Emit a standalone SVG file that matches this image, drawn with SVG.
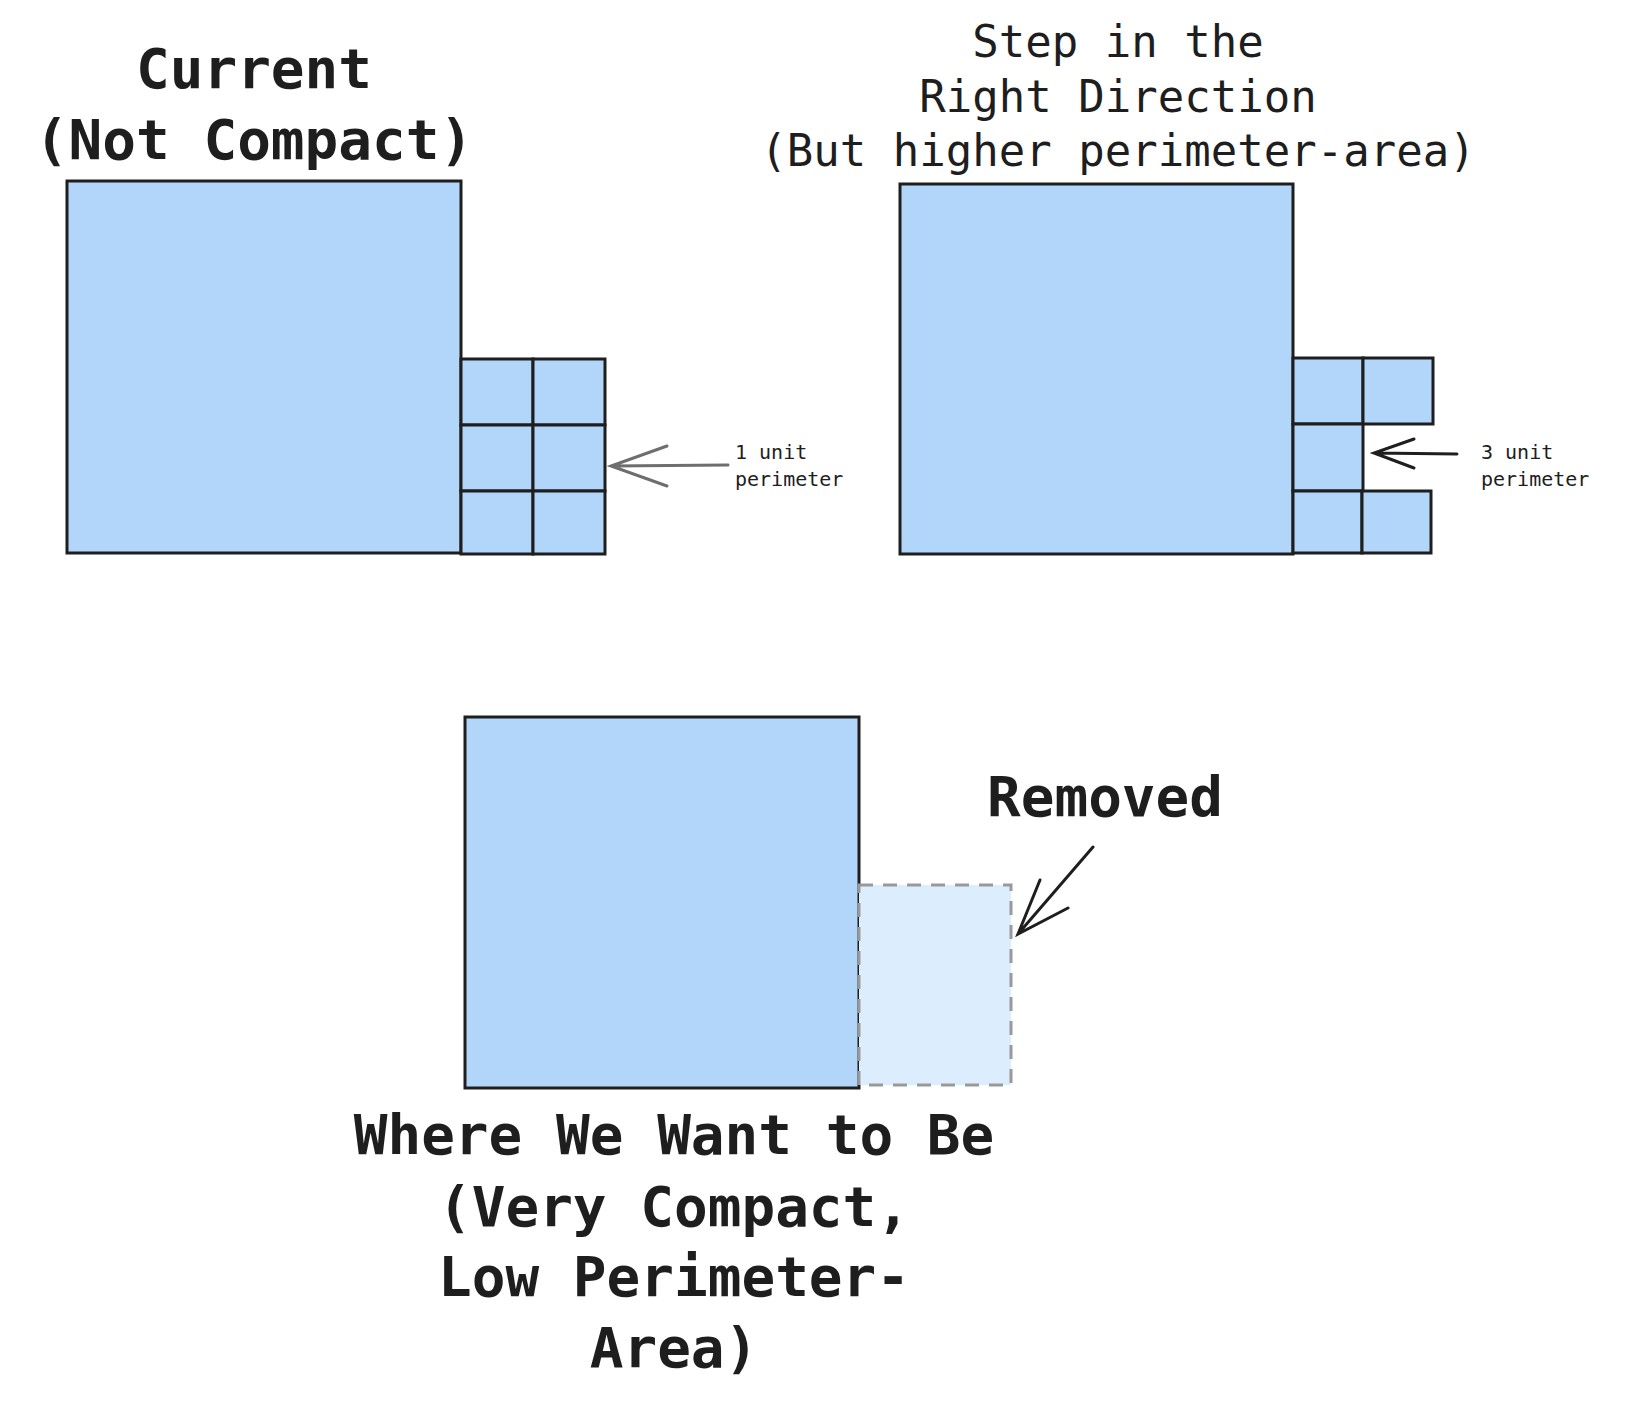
<svg xmlns="http://www.w3.org/2000/svg" width="1626" height="1428" viewBox="0 0 1626 1428">
<style>
.b{fill:#b1d6fa;stroke:#1e1e1e;stroke-width:3}
.t{font-family:"DejaVu Sans Mono","Liberation Mono",monospace;fill:#1e1e1e;text-anchor:middle}
.big{font-size:56px;font-weight:bold}
.mid{font-size:44px}
.sm{font-size:20px;text-anchor:start}
.ar{fill:none;stroke:#1e1e1e;stroke-width:3;stroke-linecap:round}
</style>
<rect width="1626" height="1428" fill="#fff"/>
<g id="current">
<text class="t big" x="254" y="88">Current</text>
<text class="t big" x="254" y="159">(Not Compact)</text>
<rect class="b" x="67" y="181" width="394" height="372"/>
<rect class="b" x="461" y="359" width="72" height="66"/>
<rect class="b" x="533" y="359" width="72" height="66"/>
<rect class="b" x="461" y="425" width="72" height="66"/>
<rect class="b" x="533" y="425" width="72" height="66"/>
<rect class="b" x="461" y="491" width="72" height="63"/>
<rect class="b" x="533" y="491" width="72" height="63"/>
<text class="t sm" x="735" y="459">1 unit</text>
<text class="t sm" x="735" y="486">perimeter</text>
</g>
<g id="step">
<text class="t mid" x="1118" y="57">Step in the</text>
<text class="t mid" x="1118" y="112">Right Direction</text>
<text class="t mid" x="1118" y="166">(But higher perimeter-area)</text>
<rect class="b" x="900" y="184" width="393" height="370"/>
<rect class="b" x="1293" y="358" width="70" height="66"/>
<rect class="b" x="1363" y="358" width="70" height="66"/>
<rect class="b" x="1293" y="424" width="70" height="67"/>
<rect class="b" x="1293" y="491" width="69" height="62"/>
<rect class="b" x="1362" y="491" width="69" height="62"/>
<text class="t sm" x="1481" y="459">3 unit</text>
<text class="t sm" x="1481" y="486">perimeter</text>
</g>
<g id="want">
<rect class="b" x="465" y="717" width="394" height="371"/>
<rect x="859" y="885" width="152" height="200" fill="#dcedfd" stroke="#999" stroke-width="3" stroke-dasharray="14 10"/>
<text class="t big" x="1105" y="816">Removed</text>
<text class="t big" x="674" y="1154">Where We Want to Be</text>
<text class="t big" x="674" y="1226">(Very Compact,</text>
<text class="t big" x="674" y="1296">Low Perimeter-</text>
<text class="t big" x="674" y="1367">Area)</text>
</g>
<g id="connectors">
<path class="ar" stroke="#6e6e6e" style="stroke:#6e6e6e" d="M728 465 L611 466 M667 446 L611 466 L667 486"/>
<path class="ar" d="M1457 454 L1374 453 M1414 439 L1374 453 L1414 468"/>
<path class="ar" d="M1093 847 L1018 934 M1040 880 L1018 934 L1068 908"/>
</g>
</svg>
